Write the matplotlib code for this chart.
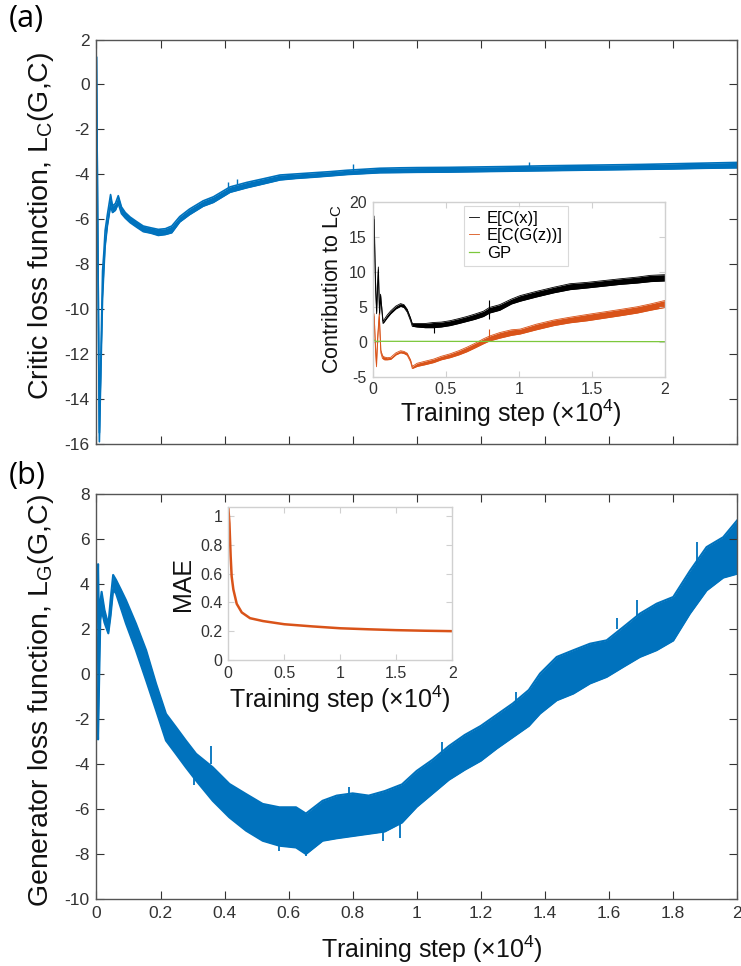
import matplotlib.pyplot as plt

plt.rcParams['font.family'] = ['Liberation Sans', 'DejaVu Sans']
plt.rcParams['mathtext.fontset'] = 'custom'
plt.rcParams['mathtext.rm'] = 'Liberation Sans'
plt.rcParams['mathtext.it'] = 'Liberation Sans:italic'
plt.rcParams['axes.unicode_minus'] = False

BLUE = '#0072BD'
ORANGE = '#D95319'
GREEN = '#7cc83c'
AXC = '#333333'
INSET_EDGE = '#d0d0d0'

# critic loss L_C, lower / upper edge of the noisy trace (x in 1e4 steps)
crit_x = [0, 0.003, 0.009, 0.014, 0.019, 0.023, 0.027, 0.034, 0.044, 0.050, 0.059,
          0.068, 0.078, 0.09, 0.105, 0.125, 0.146, 0.17, 0.193, 0.215, 0.235, 0.26,
          0.29, 0.333, 0.365, 0.417, 0.469, 0.52, 0.573, 0.625, 0.677, 0.73, 0.781,
          0.885, 0.95, 1.0, 1.1, 1.2, 1.3, 1.4, 1.5, 1.6, 1.7, 1.8, 1.9, 2.0]
crit_hi = [1.2, -4.6, -15.5, -12.0, -8.3, -7.5, -6.5, -5.8, -4.9, -5.4, -5.3,
           -4.95, -5.45, -5.7, -5.9, -6.1, -6.3, -6.38, -6.45, -6.42, -6.3, -5.88,
           -5.55, -5.18, -5.0, -4.56, -4.36, -4.2, -4.03, -3.98, -3.93, -3.88, -3.82,
           -3.73, -3.71, -3.7, -3.69, -3.67, -3.65, -3.62, -3.6, -3.58, -3.56, -3.53, -3.5, -3.47]
crit_lo = [1.2, -4.6, -15.9, -12.6, -9.5, -8.3, -7.2, -6.3, -5.4, -5.7, -5.6,
           -5.3, -5.75, -5.95, -6.15, -6.35, -6.55, -6.62, -6.72, -6.68, -6.6, -6.12,
           -5.8, -5.42, -5.25, -4.8, -4.6, -4.43, -4.25, -4.18, -4.13, -4.07, -4.01,
           -3.93, -3.92, -3.91, -3.9, -3.88, -3.86, -3.84, -3.82, -3.8, -3.78, -3.76, -3.73, -3.71]
crit_spike_x = [0.41, 0.44, 0.8, 1.35]
crit_spike_from = [-4.6, -4.45, -3.85, -3.7]
crit_spike_to = [-4.35, -4.2, -3.55, -3.45]

# generator loss L_G
gen_x = [0, 0.002, 0.005, 0.008, 0.012, 0.016, 0.025, 0.037, 0.044, 0.052, 0.061,
         0.075, 0.092, 0.123, 0.155, 0.186, 0.217, 0.248, 0.279, 0.311, 0.363, 0.415,
         0.467, 0.519, 0.571, 0.623, 0.654, 0.706, 0.75, 0.8, 0.85, 0.9, 0.954,
         1.0, 1.05, 1.10, 1.15, 1.2, 1.25, 1.3, 1.35, 1.385, 1.437, 1.489, 1.541,
         1.593, 1.645, 1.697, 1.749, 1.801, 1.853, 1.905, 1.957, 2.0]
gen_hi = [1.5, 3.0, 4.9, 2.0, 3.2, 3.67, 2.86, 2.19, 3.3, 4.42, 4.2,
          3.8, 3.3, 2.26, 1.07, -0.42, -1.76, -2.35, -2.95, -3.54, -4.14, -4.88,
          -5.33, -5.77, -5.92, -5.92, -6.2, -5.63, -5.4, -5.3, -5.4, -5.2, -4.9,
          -4.3, -3.8, -3.2, -2.7, -2.3, -1.8, -1.3, -0.7, 0.03, 0.77, 1.07, 1.36,
          1.51, 2.1, 2.7, 3.14, 3.44, 4.6, 5.66, 6.1, 6.84]
gen_lo = [0.8, -1.5, -2.9, -0.5, 2.4, 2.86, 2.3, 1.82, 2.6, 3.75, 3.6,
          3.0, 2.26, 1.07, -0.27, -1.6, -2.95, -3.54, -4.14, -4.73, -5.63, -6.37,
          -6.96, -7.41, -7.63, -7.71, -8.0, -7.41, -7.3, -7.2, -7.1, -7.0, -6.6,
          -5.9, -5.3, -4.7, -4.25, -3.85, -3.3, -2.8, -2.3, -1.75, -1.16, -0.86, -0.41,
          -0.12, 0.33, 0.77, 1.07, 1.5, 2.7, 3.73, 4.3, 4.47]
# isolated spikes sticking out of the L_G band
gen_spike_x = [0.305, 0.357, 0.571, 0.654, 0.79, 0.896, 0.948, 1.08, 1.31, 1.625, 1.687, 1.874]
gen_spike_from = [-4.6, -4.0, -7.5, -7.9, -5.5, -6.9, -6.5, -3.6, -1.3, 2.0, 2.6, 4.8]
gen_spike_to = [-4.95, -3.2, -7.85, -8.1, -5.0, -7.4, -7.3, -3.0, -0.8, 2.5, 3.3, 5.9]

# critic contributions (inset a)
ecx_x = [0, 0.011, 0.02, 0.028, 0.04, 0.048, 0.055, 0.072, 0.1, 0.124, 0.16, 0.192,
         0.215, 0.237, 0.26, 0.272, 0.305, 0.36, 0.418, 0.47, 0.53, 0.59, 0.645,
         0.7, 0.758, 0.8, 0.87, 0.95, 1.01, 1.12, 1.24, 1.35, 1.47, 1.58, 1.69,
         1.81, 1.9, 2.0]
ecx_lo = [0.5, 17.5, 8.0, 4.0, 10.3, 3.8, 6.3, 2.6, 3.4, 4.0, 4.7, 5.05,
          4.9, 4.25, 3.0, 2.2, 2.1, 2.0, 2.0, 2.1, 2.3, 2.6, 2.9,
          3.2, 3.6, 4.1, 4.5, 5.4, 5.8, 6.4, 7.0, 7.45, 7.7, 7.95, 8.2,
          8.4, 8.6, 8.7]
ecx_hi = [0.5, 18.0, 9.0, 4.5, 10.7, 4.2, 6.8, 2.9, 3.8, 4.4, 5.1, 5.45,
          5.3, 4.65, 3.4, 2.6, 2.6, 2.6, 2.75, 2.8, 3.0, 3.3, 3.6,
          3.95, 4.35, 4.9, 5.3, 6.1, 6.6, 7.2, 7.8, 8.3, 8.5, 8.75, 9.0,
          9.25, 9.5, 9.6]
egz_x = [0, 0.011, 0.02, 0.027, 0.036, 0.046, 0.057, 0.068, 0.081, 0.1, 0.124, 0.16,
         0.192, 0.215, 0.237, 0.26, 0.272, 0.305, 0.36, 0.418, 0.47, 0.53, 0.59,
         0.645, 0.7, 0.758, 0.8, 0.87, 0.95, 1.01, 1.12, 1.24, 1.35, 1.47, 1.58,
         1.69, 1.81, 1.9, 2.0]
egz_lo = [0.2, 3.6, -1.0, -3.6, 0.5, 3.6, -1.6, -2.4, -2.6, -2.6, -2.55, -1.9,
          -1.6, -1.7, -1.95, -2.9, -3.85, -3.55, -3.3, -3.0, -2.6, -2.3, -1.9,
          -1.45, -0.9, -0.3, 0.1, 0.5, 0.9, 1.1, 1.7, 2.3, 2.7, 3.0, 3.35,
          3.7, 4.1, 4.5, 4.9]
egz_hi = [0.8, 4.0, -0.5, -3.2, 1.0, 4.0, -1.2, -2.0, -2.2, -2.3, -2.25, -1.6,
          -1.3, -1.4, -1.65, -2.6, -3.55, -3.1, -2.8, -2.5, -2.1, -1.75, -1.3,
          -0.8, -0.25, 0.4, 0.8, 1.3, 1.7, 1.8, 2.5, 3.1, 3.5, 3.9, 4.25,
          4.6, 5.0, 5.4, 5.9]
gp_x = [0, 0.008, 0.02, 2.0]
gp_y = [0.9, 0.3, 0.05, 0.0]

# mean absolute error (inset b)
mae_x = [0, 0.01, 0.021, 0.03, 0.045, 0.075, 0.12, 0.194, 0.31, 0.5, 0.75, 1.0,
         1.25, 1.5, 1.75, 2.0]
mae_y = [1.06, 0.95, 0.72, 0.58, 0.49, 0.39, 0.33, 0.29, 0.27, 0.248, 0.233, 0.22,
         0.213, 0.207, 0.203, 0.2]


def g(v):
    return f'{v:g}'


def style_main(ax, yticks):
    ax.set_xlim(0, 2)
    ax.set_ylim(yticks[0], yticks[-1])
    ax.set_xticks([i * 0.2 for i in range(11)])
    ax.set_yticks(yticks)
    ax.tick_params(direction='in', top=True, right=True, length=6, width=0.8,
                   color=AXC, labelcolor=AXC, labelsize=12.5, pad=5)
    for s in ax.spines.values():
        s.set_color('#555555')
        s.set_linewidth(1.0)


def style_inset(ax):
    ax.set_xlim(0, 2)
    ax.set_xticks([0, 0.5, 1, 1.5, 2])
    ax.set_xticklabels([g(v) for v in [0, 0.5, 1, 1.5, 2]])
    ax.tick_params(direction='in', top=True, right=True, length=4, width=0.8,
                   color=INSET_EDGE, labelcolor=AXC, labelsize=11.5, pad=4)
    for s in ax.spines.values():
        s.set_color(INSET_EDGE)
        s.set_linewidth(1.0)


fig = plt.figure(figsize=(7.41, 9.66), dpi=100)

# (a) critic loss
ax1 = fig.add_axes([0.1302, 0.5404, 0.8644, 0.4187])
ax1.fill_between(crit_x, crit_lo, crit_hi, color=BLUE, lw=0)
ax1.plot(crit_x, crit_hi, color=BLUE, lw=1.2)
ax1.plot(crit_x, crit_lo, color=BLUE, lw=1.2)
ax1.vlines(crit_spike_x, crit_spike_from, crit_spike_to, color=BLUE, lw=1.0)
style_main(ax1, list(range(-16, 3, 2)))
ax1.set_xticklabels([])
ax1.set_yticklabels([g(v) for v in range(-16, 3, 2)])
ax1.set_ylabel('Critic loss function, L$_\\mathregular{C}$(G,C)', fontsize=20.5, color='#111111')
ax1.yaxis.set_label_coords(-0.063, 0.54)

ins1 = fig.add_axes([0.5027, 0.6102, 0.3947, 0.1806])
ins1.fill_between(ecx_x, ecx_lo, ecx_hi, color='black', lw=0)
ins1.plot(ecx_x, ecx_hi, color='black', lw=0.6, label='E[C(x)]')
ins1.plot(ecx_x, ecx_lo, color='black', lw=0.6)
ins1.vlines([0.418, 0.8], [1.3, 3.2], [2.4, 6.0], color='black', lw=0.8)
ins1.fill_between(egz_x, egz_lo, egz_hi, color=ORANGE, lw=0)
ins1.plot(egz_x, egz_hi, color=ORANGE, lw=0.6, label='E[C(G(z))]')
ins1.plot(egz_x, egz_lo, color=ORANGE, lw=0.6)
ins1.vlines([0.8], [0.1], [1.8], color=ORANGE, lw=0.8)
ins1.plot(gp_x, gp_y, color=GREEN, lw=0.9, label='GP')
ins1.set_ylim(-5, 20)
ins1.set_yticks([-5, 0, 5, 10, 15, 20])
style_inset(ins1)
ins1.set_ylabel('Contribution to L$_\\mathregular{C}$', fontsize=15.5, color='#111111')
ins1.set_xlabel('Training step (×10$^\\mathregular{4}$)', fontsize=18, color='#111111', labelpad=2)
ins1.xaxis.set_label_coords(0.473, -0.12)
ins1.xaxis.label.set_va('top')
leg = ins1.legend(loc='upper center', bbox_to_anchor=(0.49, 0.98), fontsize=12,
                  frameon=True, fancybox=False, handlelength=0.6, handletextpad=0.5,
                  borderpad=0.3, labelspacing=0.15, borderaxespad=0)
leg.get_frame().set_edgecolor(INSET_EDGE)
leg.get_frame().set_linewidth(0.8)

# (b) generator loss
ax2 = fig.add_axes([0.1302, 0.0694, 0.8644, 0.4187])
ax2.fill_between(gen_x, gen_lo, gen_hi, color=BLUE, lw=0)
ax2.plot(gen_x, gen_hi, color=BLUE, lw=1.5)
ax2.plot(gen_x, gen_lo, color=BLUE, lw=1.5)
ax2.vlines(gen_spike_x, gen_spike_from, gen_spike_to, color=BLUE, lw=1.3)
style_main(ax2, list(range(-10, 9, 2)))
ax2.set_xticklabels([g(round(i * 0.2, 1)) for i in range(11)])
ax2.set_yticklabels([g(v) for v in range(-10, 9, 2)])
ax2.set_ylabel('Generator loss function, L$_\\mathregular{G}$(G,C)', fontsize=20.5, color='#111111')
ax2.yaxis.set_label_coords(-0.063, 0.49)
ax2.set_xlabel('Training step (×10$^\\mathregular{4}$)', fontsize=18, color='#111111')
ax2.xaxis.set_label_coords(0.524, -0.085)
ax2.xaxis.label.set_va('top')

ins2 = fig.add_axes([0.3081, 0.3168, 0.3023, 0.1581])
ins2.plot(mae_x, mae_y, color=ORANGE, lw=1.8)
ins2.set_ylim(0, 1.06)
ins2.set_yticks([0, 0.2, 0.4, 0.6, 0.8, 1])
ins2.set_yticklabels([g(v) for v in [0, 0.2, 0.4, 0.6, 0.8, 1]])
style_inset(ins2)
ins2.set_ylabel('MAE', fontsize=18, color='#111111', labelpad=4)
ins2.set_xlabel('Training step (×10$^\\mathregular{4}$)', fontsize=18, color='#111111', labelpad=2)

fig.text(0.012, 0.996, '(a)', fontsize=22, family='Open Sans', va='top', ha='left')
fig.text(0.012, 0.523, '(b)', fontsize=22, family='Open Sans', va='top', ha='left')

fig.savefig('out.png', dpi=100)
